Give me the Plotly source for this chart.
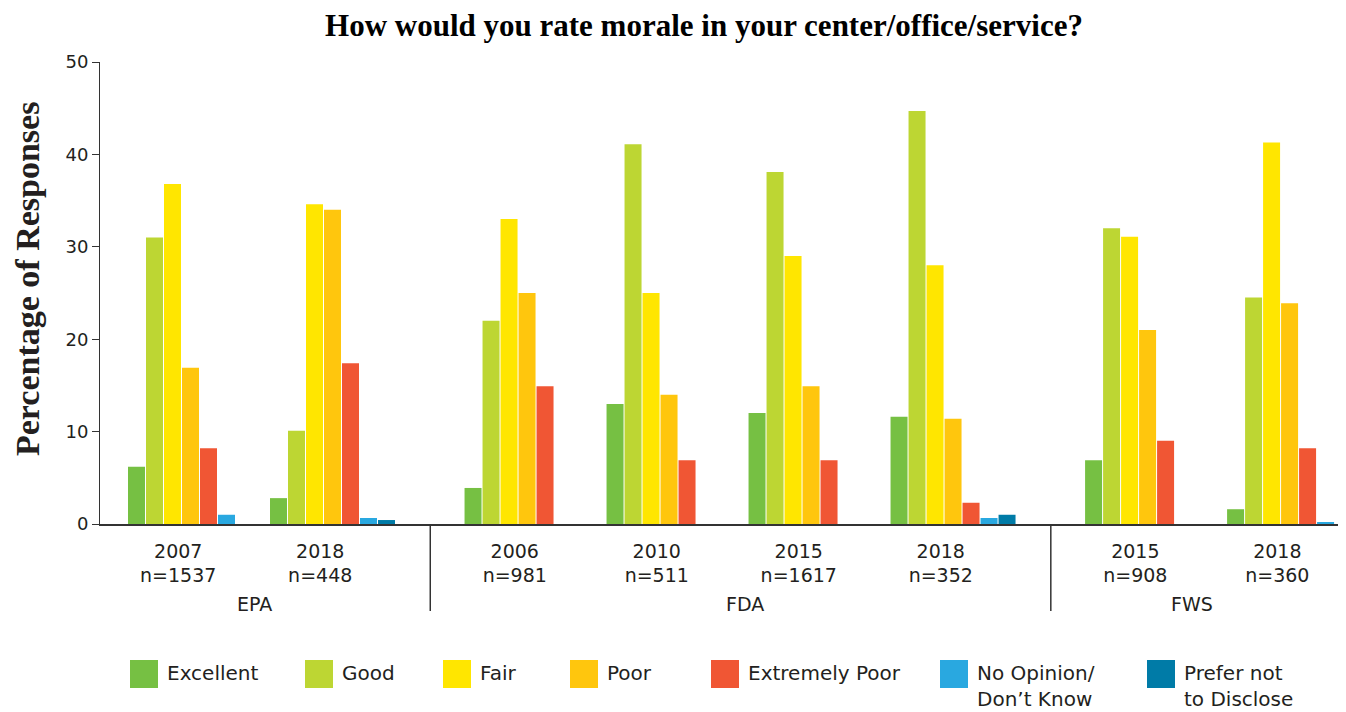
import plotly.graph_objects as go

# ---------------- data ----------------
agencies = ["EPA", "EPA", "FDA", "FDA", "FDA", "FDA", "FWS", "FWS"]
years = ["2007", "2018", "2006", "2010", "2015", "2018", "2015", "2018"]
sample_sizes = ["n=1537", "n=448", "n=981", "n=511", "n=1617", "n=352", "n=908", "n=360"]

series_names = ["Excellent", "Good", "Fair", "Poor", "Extremely Poor",
                "No Opinion/<br>Don’t Know", "Prefer not<br>to Disclose"]
series_colors = ["#76C043", "#BDD633", "#FFE600", "#FFC60D", "#F05634", "#29A8E0", "#007BA7"]

excellent = [6.2, 2.8, 3.9, 13.0, 12.0, 11.6, 6.9, 1.6]
good = [31.0, 10.1, 22.0, 41.1, 38.1, 44.7, 32.0, 24.5]
fair = [36.8, 34.6, 33.0, 25.0, 29.0, 28.0, 31.1, 41.3]
poor = [16.9, 34.0, 25.0, 14.0, 14.9, 11.4, 21.0, 23.9]
extremely_poor = [8.2, 17.4, 14.9, 6.9, 6.9, 2.3, 9.0, 8.2]
no_opinion = [1.0, 0.65, 0.0, 0.0, 0.0, 0.65, 0.0, 0.2]
prefer_not = [0.0, 0.43, 0.0, 0.0, 0.0, 1.0, 0.0, 0.0]

series_values = [excellent, good, fair, poor, extremely_poor, no_opinion, prefer_not]

y_ticks = [0, 10, 20, 30, 40, 50]

# ---------------- layout helpers ----------------
# The page body adds an 8px margin, so the figure is drawn 8px smaller
# and all reference-pixel positions are shifted by OFF.
OFF = 8
REF_W, REF_H = 1346, 712
PLOT_L, PLOT_R, PLOT_T, PLOT_B = 100, 1346, 62, 524   # plot area in reference pixels
W, H = REF_W - OFF, REF_H - OFF
M_L, M_T = PLOT_L - OFF, PLOT_T - OFF
M_R = 0
M_B = H - (PLOT_B - OFF)
PW, PH = PLOT_R - PLOT_L, PLOT_B - PLOT_T


def pxx(px):
    return (px - PLOT_L) / PW


def pxy(py):
    return (PLOT_B - py) / PH


PX_PER_UNIT = 142.0          # pixels per category step
ORIGIN_PX = 191.0            # pixel of first category centre

group_gap = 0.37
positions = []
g_index = -1
prev = None
for i, a in enumerate(agencies):
    if a != prev:
        g_index += 1
        prev = a
    positions.append(i + g_index * group_gap)

bar_px = 17.0
pitch_px = 18.0
n_series = len(series_names)
bar_w = bar_px / PX_PER_UNIT
pitch = pitch_px / PX_PER_UNIT
start_off = -n_series * pitch / 2

x_min = (PLOT_L - ORIGIN_PX) / PX_PER_UNIT
x_max = (PLOT_R - ORIGIN_PX) / PX_PER_UNIT

fig = go.Figure()
for k, (name, col, vals) in enumerate(zip(series_names, series_colors, series_values)):
    fig.add_trace(go.Bar(
        x=positions, y=vals, name=name.replace("<br>", " "),
        marker=dict(color=col, line=dict(width=0)),
        width=bar_w, offset=start_off + k * pitch,
        showlegend=False,
    ))

label_shift = -0.09
tick_pos = [p + label_shift for p in positions]
tick_text = [f"{y}<br>{n}" for y, n in zip(years, sample_sizes)]

font_sans = "DejaVu Sans"
dark = "#231F20"
serif = "Liberation Serif"

fig.update_layout(
    width=W, height=H,
    margin=dict(l=M_L, r=M_R, t=M_T, b=M_B, pad=0),
    paper_bgcolor="white", plot_bgcolor="white",
    barmode="overlay",
    font=dict(family=font_sans, color=dark),
    xaxis=dict(
        range=[x_min, x_max], showgrid=False, zeroline=False,
        showline=True, linecolor="#333333", linewidth=1.5,
        tickmode="array", tickvals=tick_pos, ticktext=tick_text,
        ticks="", tickfont=dict(size=19, color=dark, family=font_sans),
        ticklabelstandoff=9,
    ),
    yaxis=dict(
        range=[0, 50], showgrid=False, zeroline=False,
        showline=True, linecolor="#333333", linewidth=1,
        tickmode="array", tickvals=y_ticks,
        ticks="outside", ticklen=7, tickcolor="#333333", tickwidth=1,
        tickfont=dict(size=18, color=dark, family=font_sans),
    ),
    title=dict(
        text="<b>How would you rate morale in your center/office/service?</b>",
        x=(704 - OFF) / W, xanchor="center", xref="container",
        y=1 - (25 - OFF) / H, yanchor="middle", yref="container",
        font=dict(family=serif, size=31, color="black"),
    ),
)

annotations = []
shapes = []

# y-axis title
annotations.append(dict(
    text="<b>Percentage of Responses</b>", textangle=-90,
    xref="paper", yref="paper", x=pxx(27), y=pxy(279),
    xanchor="center", yanchor="middle", showarrow=False,
    font=dict(family=serif, size=34, color=dark),
))

# agency group labels and dividers
group_label_px = {"EPA": 254, "FDA": 745, "FWS": 1192}
for a in dict.fromkeys(agencies):
    annotations.append(dict(
        text=a, xref="paper", yref="paper",
        x=pxx(group_label_px[a]), y=pxy(604),
        xanchor="center", yanchor="middle", showarrow=False,
        font=dict(family=font_sans, size=19, color=dark),
    ))
for i in range(1, len(positions)):
    if agencies[i] != agencies[i - 1]:
        xd = (positions[i] + positions[i - 1]) / 2
        shapes.append(dict(
            type="line", xref="x", yref="paper",
            x0=xd, x1=xd, y0=0, y1=pxy(611),
            line=dict(color="#333333", width=1.5),
        ))

# custom legend (large square swatches)
legend_x_px = [130, 305, 443, 570, 711, 940, 1147]
sq = 28
legend_cy = 674
for name, col, lx in zip(series_names, series_colors, legend_x_px):
    shapes.append(dict(
        type="rect", xref="paper", yref="paper",
        x0=pxx(lx), x1=pxx(lx + sq),
        y0=pxy(legend_cy + sq / 2), y1=pxy(legend_cy - sq / 2),
        fillcolor=col, line=dict(width=0),
    ))
    annotations.append(dict(
        text=name, xref="paper", yref="paper", align="left",
        x=pxx(lx + sq + 7), y=pxy(legend_cy - 15),
        xanchor="left", yanchor="top", showarrow=False,
        font=dict(family=font_sans, size=20, color=dark),
    ))

fig.update_layout(annotations=annotations, shapes=shapes)

fig.write_html("out.html")
